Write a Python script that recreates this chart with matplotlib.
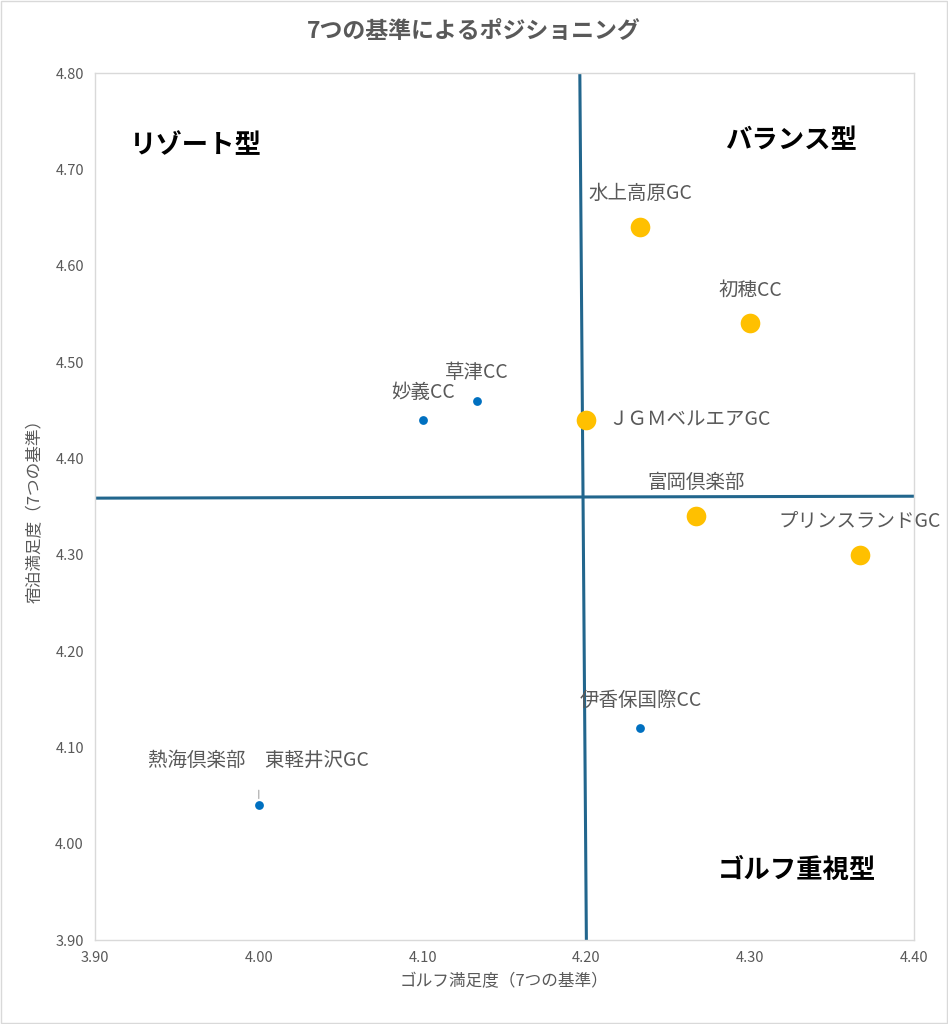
import matplotlib
matplotlib.use("Agg")
import matplotlib.pyplot as plt
from matplotlib.patches import Rectangle

plt.rcParams['font.family'] = ['Noto Sans CJK JP', 'DejaVu Sans']

names = ["水上高原GC", "初穂CC", "ＪＧＭベルエアGC", "富岡倶楽部", "プリンスランドGC",
         "草津CC", "妙義CC", "伊香保国際CC", "熱海倶楽部　東軽井沢GC"]
golf = [4.233, 4.300, 4.200, 4.267, 4.367, 4.133, 4.100, 4.233, 4.000]
stay = [4.64, 4.54, 4.44, 4.34, 4.30, 4.46, 4.44, 4.12, 4.04]
group = ["big", "big", "big", "big", "big", "small", "small", "small", "small"]
label_offsets = [(0, 24), (0, 24), (16, 0), (0, 24), (0, 24), (0, 20), (0, 20), (0, 20), (0, 32)]

quad_v = ([4.196, 4.200], [4.80, 3.90])
quad_h = ([3.90, 4.40], [4.3587, 4.3607])
quad_labels = ["リゾート型", "バランス型", "ゴルフ重視型"]
quad_pos = [(3.921, 4.725), (4.365, 4.730), (4.377, 3.972)]
quad_ha = ["left", "right", "right"]

xticks = [3.90, 4.00, 4.10, 4.20, 4.30, 4.40]
yticks = [3.90, 4.00, 4.10, 4.20, 4.30, 4.40, 4.50, 4.60, 4.70, 4.80]

fig = plt.figure(figsize=(9.48, 10.24), dpi=100)
ax = fig.add_axes([0.1002, 0.082, 0.8639, 0.8467])
fig.patches.append(Rectangle((0.001, 0.001), 0.998, 0.998, transform=fig.transFigure,
                             fill=False, edgecolor='#D9D9D9', linewidth=1.0))

ax.plot(quad_v[0], quad_v[1], color='#22668D', linewidth=2.2, zorder=1)
ax.plot(quad_h[0], quad_h[1], color='#22668D', linewidth=2.2, zorder=1)

for n, x, y, g, off in zip(names, golf, stay, group, label_offsets):
    if g == "big":
        ax.scatter(x, y, s=200, color='#FFC000', zorder=3, linewidths=0)
    else:
        ax.scatter(x, y, s=40, color='#0070C0', zorder=3, linewidths=0)
    ha = 'left' if off[0] > 0 else 'center'
    ax.annotate(n, (x, y), xytext=off, textcoords='offset points',
                ha=ha, va='center', fontsize=14, color='#595959', zorder=4)

# small leader line for the overlapping pair
ax.annotate("", (golf[8], stay[8] + 0.004), xytext=(0, 10), textcoords='offset points',
            arrowprops=dict(arrowstyle='-', color='#A6A6A6', linewidth=0.8))

for t, p, ha in zip(quad_labels, quad_pos, quad_ha):
    ax.text(p[0], p[1], t, ha=ha, va='center', fontsize=19, fontweight='bold', color='black')

ax.set_xlim(3.90, 4.40)
ax.set_ylim(3.90, 4.80)
ax.set_xticks(xticks)
ax.set_yticks(yticks)
ax.set_xticklabels([f"{v:.2f}" for v in xticks])
ax.set_yticklabels([f"{v:.2f}" for v in yticks])
ax.tick_params(length=0, labelsize=10.5, labelcolor='#595959', pad=8)
for s in ax.spines.values():
    s.set_color('#D9D9D9')
    s.set_linewidth(1.0)

ax.set_xlabel("ゴルフ満足度（7つの基準）", fontsize=12, color='#595959', labelpad=6)
ax.set_ylabel("宿泊満足度（7つの基準）", fontsize=12, color='#595959', labelpad=8)
fig.text(0.5, 0.969, "7つの基準によるポジショニング", ha='center', va='center',
         fontsize=16.5, fontweight='bold', color='#595959')

fig.savefig("out.png", dpi=100)
